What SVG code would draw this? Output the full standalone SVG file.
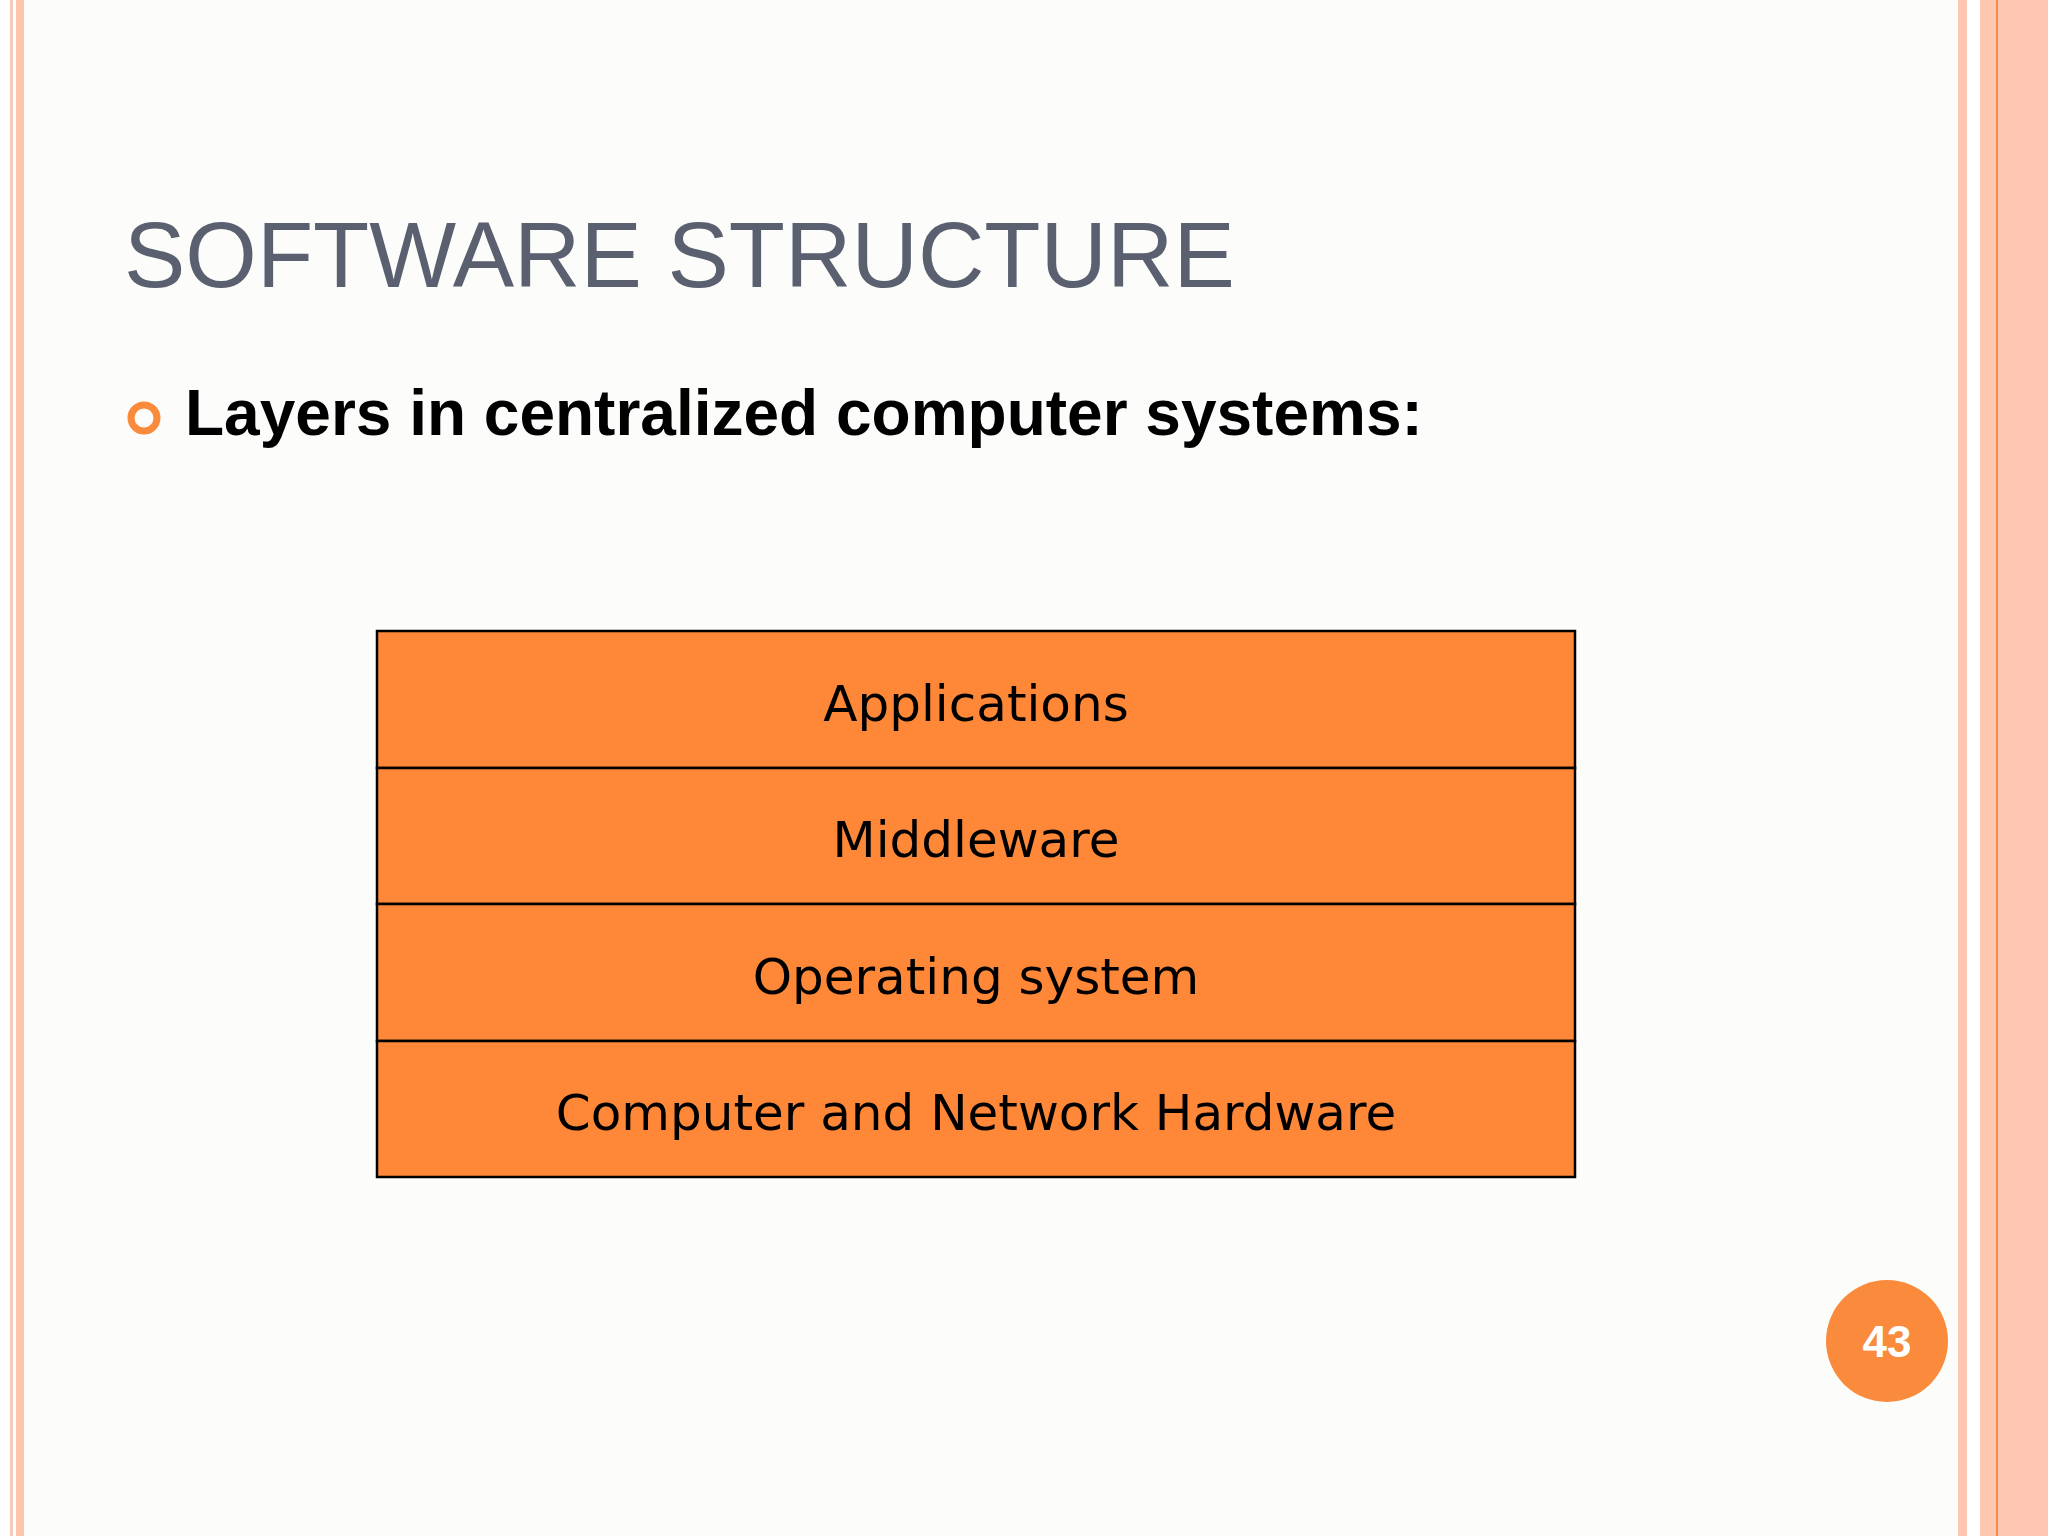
<svg xmlns="http://www.w3.org/2000/svg" width="2048" height="1536" viewBox="0 0 2048 1536">
<style>
.cell{fill:#ff8838;stroke:#000;stroke-width:2.5}
.lbl{font-family:"DejaVu Sans",sans-serif;font-size:50px;fill:#000;text-anchor:middle}
</style>
<rect width="2048" height="1536" fill="#fcfdfb"/>
<rect x="0" y="0" width="10" height="1536" fill="#fff"/>
<rect x="10" y="0" width="3" height="1536" fill="#f6c9bd"/>
<rect x="13" y="0" width="3" height="1536" fill="#fff"/>
<rect x="16" y="0" width="8" height="1536" fill="#fdc3ad"/>
<rect x="1958" y="0" width="9" height="1536" fill="#fdc7b2"/>
<rect x="1967" y="0" width="13" height="1536" fill="#fff"/>
<rect x="1980" y="0" width="68" height="1536" fill="#fdc7b2"/>
<rect x="1996" y="0" width="2" height="1536" fill="#f58a4a"/>
<rect x="2016" y="0" width="32" height="1536" fill="#fec6b3"/>
<text x="124" y="287" font-family="Liberation Sans,sans-serif" font-size="92" fill="#5a6070">SOFTWARE STRUCTURE</text>
<circle cx="144" cy="418" r="13" fill="none" stroke="#fa8a3c" stroke-width="7"/>
<text x="185" y="435" font-family="Liberation Sans,sans-serif" font-weight="bold" font-size="64" fill="#000">Layers in centralized computer systems:</text>
<g id="applications"><rect class="cell" x="377" y="631" width="1198" height="137"/><text class="lbl" x="976" y="721">Applications</text></g>
<g id="middleware"><rect class="cell" x="377" y="768" width="1198" height="136"/><text class="lbl" x="976" y="857">Middleware</text></g>
<g id="os"><rect class="cell" x="377" y="904" width="1198" height="137"/><text class="lbl" x="976" y="994">Operating system</text></g>
<g id="hardware"><rect class="cell" x="377" y="1041" width="1198" height="136"/><text class="lbl" x="976" y="1130">Computer and Network Hardware</text></g>
<g id="connectors"/>
<circle cx="1887" cy="1341" r="61" fill="#fa8a3c"/>
<text x="1887" y="1357" font-family="Liberation Sans,sans-serif" font-weight="bold" font-size="44" fill="#fff" text-anchor="middle">43</text>
</svg>
